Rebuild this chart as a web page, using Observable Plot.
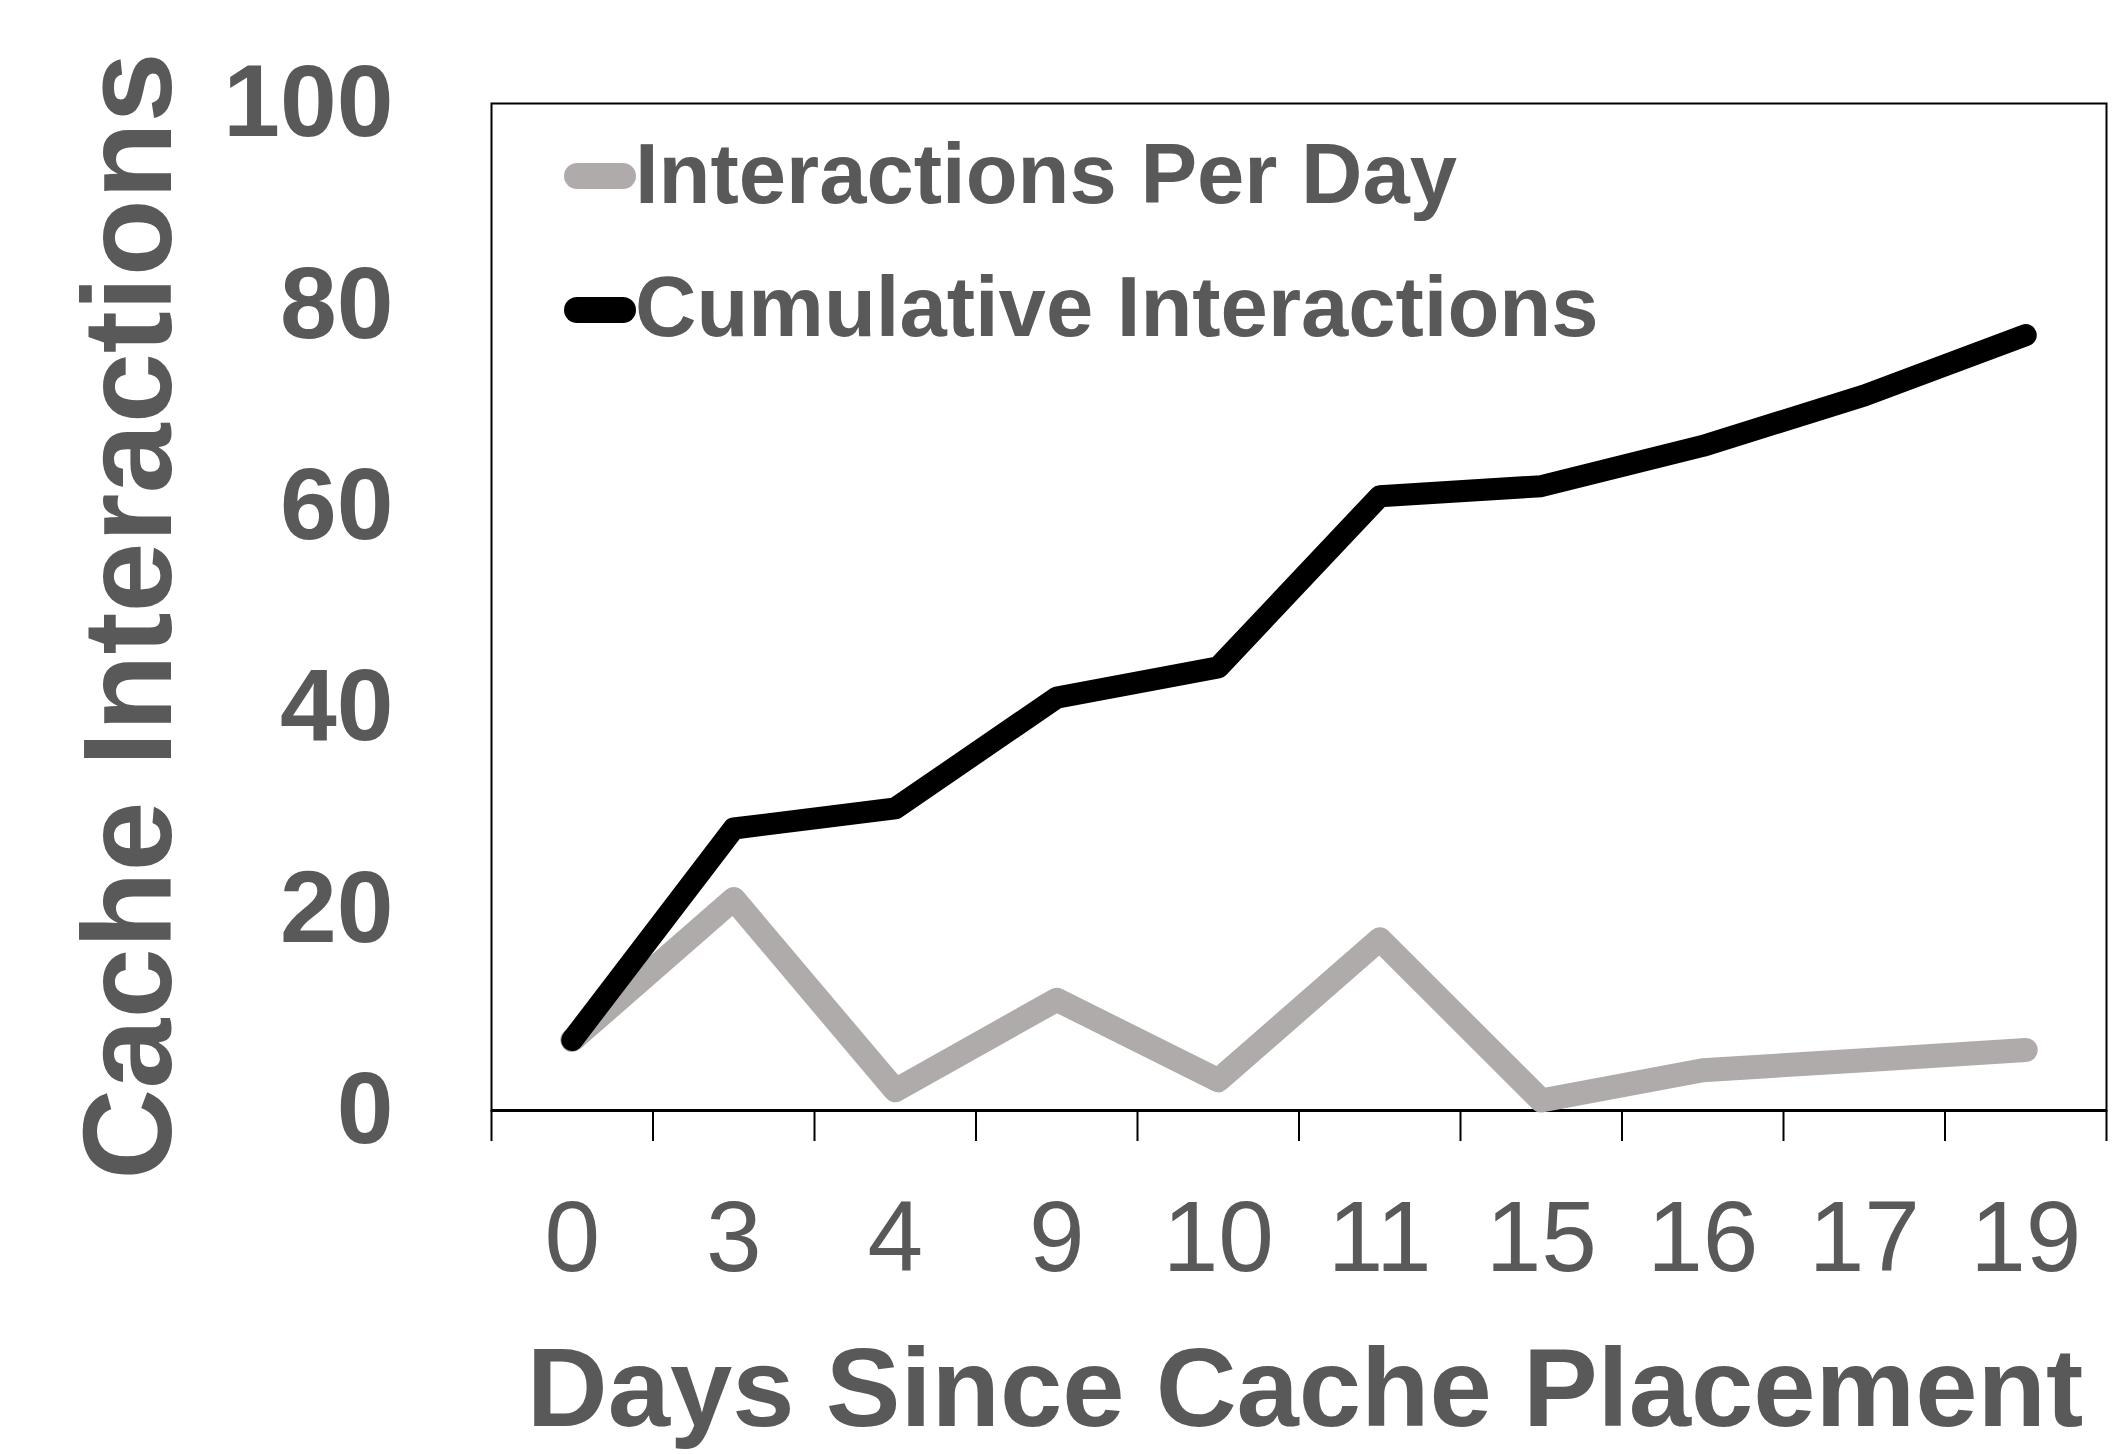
<!DOCTYPE html>
<html><head><meta charset="utf-8">
<script src="https://cdn.jsdelivr.net/npm/d3@7"></script>
<script src="https://cdn.jsdelivr.net/npm/@observablehq/plot@0.6"></script>
<style>
html,body{margin:0;padding:0;background:#fff;}
#wrap{position:relative;width:2126px;height:1454px;}
#legend{position:absolute;left:0;top:0;pointer-events:none;}
</style></head><body><div id="wrap"></div>
<script>
const days = ["0","3","4","9","10","11","15","16","17","19"];
const perDay = [7,21,2,11,3,17,1,4,5,6];
const cumulative = [7,28,30,41,44,61,62,66,71,77];
const yTicks = [0,20,40,60,80,100];
const seriesNames = ["Interactions Per Day","Cumulative Interactions"];
const seriesColors = ["#afabab","#000000"];
const xTitle = "Days Since Cache Placement";
const yTitle = "Cache Interactions";

const FONT = "'Liberation Sans', Arial, sans-serif";
const TXT = "#595959";

const rowsPer = days.map((d,i)=>({idx:i, day:d, v:perDay[i]}));
const rowsCum = days.map((d,i)=>({idx:i, day:d, v:cumulative[i]}));
const boundaries = d3.range(days.length + 1);
const centers = days.map((d,i)=>i + 0.5);

const chart = Plot.plot({
  width: 2126, height: 1454,
  marginLeft: 491, marginRight: 20, marginTop: 103, marginBottom: 344,
  style: {fontFamily: FONT, background: "white", overflow: "visible"},
  x: {type: "linear", domain: [0, days.length], axis: null},
  y: {domain: [0, 100], axis: null},
  marks: [
    Plot.frame({stroke: "black", strokeWidth: 2}),
    Plot.axisY(yTicks, {anchor: "left", tickSize: 0, tickPadding: 98, fontSize: 102, fontWeight: "bold", fill: TXT, label: null}),
    Plot.axisX(boundaries, {anchor: "bottom", tickSize: 31, strokeWidth: 2, stroke: "black", tickFormat: () => "", label: null}),
    Plot.axisX(centers, {anchor: "bottom", tickSize: 0, tickPadding: 89, fontSize: 100, fill: TXT, tickFormat: v => days[Math.round(v - 0.5)], label: null}),
    Plot.ruleY([0], {stroke: "black", strokeWidth: 3}),
    Plot.line(rowsPer, {x: d => d.idx + 0.5, y: "v", stroke: seriesColors[0], strokeWidth: 24, strokeLinecap: "round", strokeLinejoin: "round"}),
    Plot.line(rowsCum, {x: d => d.idx + 0.5, y: "v", stroke: seriesColors[1], strokeWidth: 22, strokeLinecap: "round", strokeLinejoin: "round"}),
    Plot.text([xTitle], {frameAnchor: "bottom", text: d => d, dx: 6, dy: 280, lineAnchor: "middle", textAnchor: "middle", fontSize: 112, fontWeight: "bold", fill: TXT}),
    Plot.text([yTitle], {frameAnchor: "left", text: d => d, rotate: -90, dx: -361, dy: 9, lineAnchor: "middle", textAnchor: "middle", fontSize: 126, fontWeight: "bold", fill: TXT})
  ]
});
const wrap = document.getElementById("wrap");
wrap.appendChild(chart);

// legend overlay (inside plot area, top-left)
const leg = d3.select(wrap).append("svg").attr("id","legend")
  .attr("width", 2126).attr("height", 1454);
const legBase = [203, 336];
const legMid = [176, 310];
seriesNames.forEach((name, i) => {
  leg.append("line").attr("x1", 577).attr("x2", 623).attr("y1", legMid[i]).attr("y2", legMid[i])
    .attr("stroke", seriesColors[i]).attr("stroke-width", 26).attr("stroke-linecap", "round");
  leg.append("text").attr("x", 635).attr("y", legBase[i]).text(name)
    .attr("font-family", FONT).attr("font-size", 85).attr("font-weight", "bold").attr("fill", TXT);
});
</script></body></html>
